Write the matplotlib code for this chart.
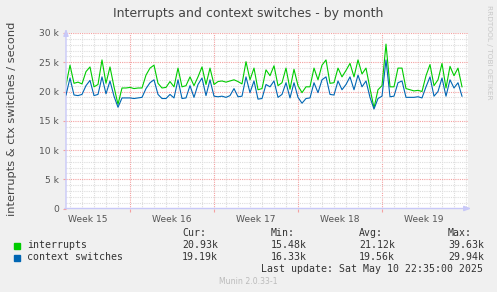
import matplotlib
matplotlib.use("Agg")
import matplotlib.pyplot as plt
from matplotlib.ticker import MultipleLocator, FixedLocator, NullFormatter, FuncFormatter
import numpy as np

# ---------------- data (values in thousands per second) ----------------
interrupts = [21.1, 24.5, 21.4, 21.6, 21.3, 23.4, 24.2, 20.8, 21.2, 25.4,
              21.4, 24.2, 20.8, 17.8, 20.6, 20.6, 20.7, 20.5, 20.6, 20.6,
              22.8, 24.0, 24.5, 21.4, 20.6, 20.7, 21.7, 20.8, 24.0, 20.8,
              21.0, 22.5, 21.0, 22.5, 24.2, 21.2, 24.0, 21.2, 21.7, 21.8,
              21.6, 21.8, 22.0, 21.7, 21.3, 25.1, 22.0, 24.0, 20.3, 20.5,
              23.7, 22.7, 24.4, 21.0, 21.5, 24.0, 20.4, 23.8, 21.0, 19.8,
              20.8, 20.8, 24.0, 22.0, 24.5, 25.4, 21.4, 21.5, 24.0, 22.5,
              23.6, 24.8, 22.5, 25.4, 23.0, 24.0, 20.5, 17.2, 20.3, 21.0,
              28.1, 20.8, 20.8, 24.0, 24.0, 20.5, 20.3, 20.1, 20.2, 20.0,
              22.7, 24.6, 21.0, 22.0, 24.8, 20.6, 24.3, 22.7, 24.0, 20.8]
context_switches = [19.4, 22.3, 19.4, 19.3, 19.5, 21.0, 21.9, 19.3, 19.5, 22.5,
                    19.6, 21.8, 19.2, 17.3, 18.9, 18.9, 18.9, 18.8, 18.9, 19.0,
                    20.5, 21.5, 22.0, 19.5, 18.8, 18.8, 19.5, 18.9, 22.0, 18.8,
                    18.9, 21.0, 19.0, 21.2, 22.3, 19.3, 22.0, 19.2, 19.1, 19.2,
                    19.0, 19.3, 20.5, 19.1, 19.2, 22.5, 19.8, 21.8, 18.7, 18.8,
                    21.2, 20.8, 21.8, 19.0, 19.5, 21.5, 18.9, 21.5, 19.0, 18.0,
                    18.8, 18.9, 21.5, 19.8, 22.0, 22.5, 19.5, 19.4, 21.8, 20.3,
                    21.2, 22.5, 20.3, 22.8, 20.8, 21.8, 19.0, 17.0, 18.8, 19.2,
                    25.4, 19.1, 19.2, 21.5, 21.8, 19.0, 19.0, 19.0, 19.1, 18.9,
                    20.8, 22.5, 19.2, 20.0, 22.3, 19.2, 22.0, 20.6, 21.5, 19.2]
week_labels = ["Week 15", "Week 16", "Week 17", "Week 18", "Week 19"]
week_starts = [5.333, 12.333, 19.333, 26.333]   # day offsets of week boundaries
legend_names = ["interrupts", "context switches"]
stats_headers = ["Cur:", "Min:", "Avg:", "Max:"]
stats_interrupts = ["20.93k", "15.48k", "21.12k", "39.63k"]
stats_ctx = ["19.19k", "16.33k", "19.56k", "29.94k"]

GREEN = "#00CC00"
BLUE = "#0066B3"
BG = "#F0F0F0"

days = np.arange(len(interrupts)) / 3.0   # 8-hour samples

fig = plt.figure(figsize=(4.97, 2.92), dpi=100, facecolor=BG)
W, H = 497.0, 292.0
ax = fig.add_axes([66 / W, (H - 208.5) / H, (468 - 66) / W, 175.5 / H])
ax.set_facecolor("white")

ax.plot(days, np.array(interrupts) * 1000, color=GREEN, lw=0.8, zorder=3)
ax.plot(days, np.array(context_switches) * 1000, color=BLUE, lw=0.8, zorder=4)

ax.set_xlim(0, 33.5)
ax.set_ylim(0, 30000)

# grids
ax.yaxis.set_major_locator(MultipleLocator(5000))
ax.yaxis.set_minor_locator(MultipleLocator(1000))
ax.xaxis.set_major_locator(FixedLocator(week_starts))
minor_days = [d for d in np.arange(week_starts[0] - 5, 33.5, 1.0) if d > 0]
ax.xaxis.set_minor_locator(FixedLocator(minor_days))
ax.grid(which="minor", color="#DDDDDD", linestyle=(0, (1, 1)), lw=0.8, zorder=1)
ax.grid(which="major", color="#F4A0A0", linestyle=(0, (1, 1)), lw=0.8, zorder=2)
ax.xaxis.set_major_formatter(NullFormatter())

def yfmt(v, pos):
    return "0" if v == 0 else f"{int(v / 1000)} k"
ax.yaxis.set_major_formatter(FuncFormatter(yfmt))
ax.tick_params(axis="y", which="major", labelsize=6.6, labelcolor="#555555",
               length=2, color="#F4A0A0", pad=3)
ax.tick_params(axis="x", which="major", length=2, color="#F4A0A0")
ax.tick_params(which="minor", length=0)

# week labels centred in each week
centres = [week_starts[0] - 3.5] + [w + 3.5 for w in week_starts]
for c, lab in zip(centres, week_labels):
    ax.text(c, -0.035, lab, transform=ax.get_xaxis_transform(), ha="center",
            va="top", fontsize=6.6, color="#555555")

for s in ax.spines.values():
    s.set_visible(False)
# axis lines with arrows (rrdtool style)
ax.annotate("", xy=(0, 1.04), xytext=(0, -0.01), xycoords="axes fraction",
            arrowprops=dict(arrowstyle="-|>,head_width=0.15,head_length=0.4",
                            color="#C8C8F8", lw=1.0), annotation_clip=False)
ax.annotate("", xy=(1.015, 0), xytext=(-0.01, 0), xycoords="axes fraction",
            arrowprops=dict(arrowstyle="-|>,head_width=0.15,head_length=0.4",
                            color="#C8C8F8", lw=1.0), annotation_clip=False)

# titles and side texts
fig.text(248 / W, 1 - 13 / H, "Interrupts and context switches - by month",
         ha="center", va="center", fontsize=9.0, color="#444444")
fig.text(12 / W, 1 - 119 / H, "interrupts & ctx switches / second", rotation=90,
         ha="center", va="center", fontsize=8.2, color="#444444")
fig.text(489 / W, 1 - 5 / H, "RRDTOOL / TOBI OETIKER", rotation=270,
         ha="center", va="top", fontsize=5.3, color="#C8C8C8")

# legend
mono = "DejaVu Sans Mono"
fs = 7.1
col_x = [182, 271, 359, 448]
for x, h in zip(col_x, stats_headers):
    fig.text(x / W, 1 - 233 / H, h, family=mono, fontsize=fs, color="#333333",
             ha="left", va="center")
rows = [(245, GREEN, legend_names[0], stats_interrupts),
        (257, BLUE, legend_names[1], stats_ctx)]
for y, col, name, vals in rows:
    fig.patches.append(plt.Rectangle((14 / W, 1 - (y + 3.5) / H), 6 / W, 6 / H,
                                     transform=fig.transFigure, color=col,
                                     figure=fig))
    fig.text(27 / W, 1 - y / H, name, family=mono, fontsize=fs, color="#333333",
             ha="left", va="center")
    for x, v in zip(col_x, vals):
        fig.text(x / W, 1 - y / H, v, family=mono, fontsize=fs,
                 color="#333333", ha="left", va="center")
fig.text(483 / W, 1 - 269 / H, "Last update: Sat May 10 22:35:00 2025",
         family=mono, fontsize=fs, color="#333333", ha="right", va="center")
fig.text(248 / W, 1 - 281 / H, "Munin 2.0.33-1", fontsize=5.6,
         color="#BBBBBB", ha="center", va="center")

fig.savefig("out.png", dpi=100, facecolor=BG)
